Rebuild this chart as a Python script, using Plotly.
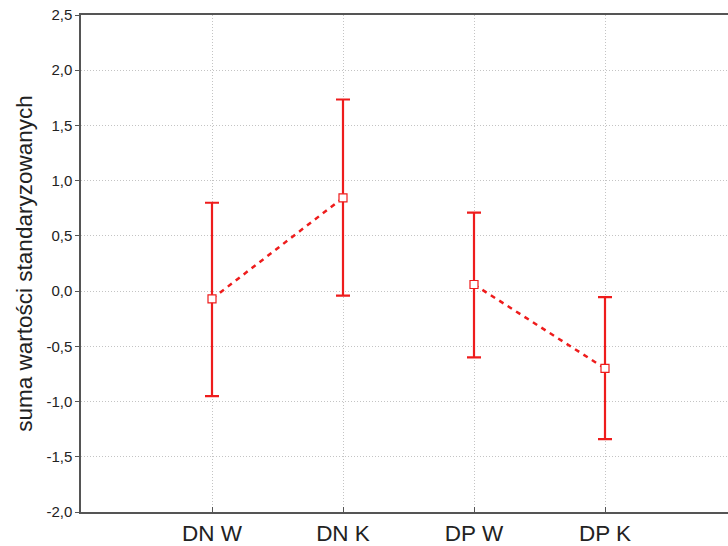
import plotly.graph_objects as go

categories = ["DN W", "DN K", "DP W", "DP K"]
x_pos = [1, 2, 3, 4]
means = [-0.07, 0.845, 0.06, -0.70]
upper = [0.80, 1.735, 0.71, -0.055]
lower = [-0.95, -0.04, -0.60, -1.34]

y_ticks = [-2.0, -1.5, -1.0, -0.5, 0.0, 0.5, 1.0, 1.5, 2.0, 2.5]
y_tick_text = [f"{v:.1f}".replace(".", ",") for v in y_ticks]

red = "#ee1c1c"
fig = go.Figure()

groups = [[0, 1], [2, 3]]
for g in groups:
    fig.add_trace(go.Scatter(
        x=[x_pos[i] for i in g],
        y=[means[i] for i in g],
        mode="lines",
        line=dict(color=red, width=2.5, dash="5px,5px"),
        showlegend=False, hoverinfo="skip",
    ))

fig.add_trace(go.Scatter(
    x=x_pos, y=means, mode="markers",
    marker=dict(symbol="square", size=8, color="white", line=dict(color=red, width=1.2)),
    error_y=dict(type="data", symmetric=False,
                 array=[u - m for u, m in zip(upper, means)],
                 arrayminus=[m - l for m, l in zip(means, lower)],
                 color=red, thickness=2.2, width=7),
    showlegend=False,
))

fig.update_layout(
    width=736, height=546,
    margin=dict(l=81, r=0, t=15, b=29),
    paper_bgcolor="white", plot_bgcolor="white",
    font=dict(family="Liberation Sans, Arial, sans-serif", color="#222"),
)
fig.update_xaxes(
    range=[0.0, 5.0],
    tickvals=x_pos, ticktext=categories,
    tickfont=dict(size=22.5, color="#222"),
    showgrid=True, gridcolor="#c4c4c4", griddash="1px,2px", gridwidth=1,
    showline=True, linecolor="#555", linewidth=1.5, mirror=True,
    ticks="inside", ticklen=5, tickcolor="#555",
    zeroline=False,
)
fig.update_yaxes(
    range=[-2.0, 2.5],
    tickvals=y_ticks, ticktext=y_tick_text,
    tickfont=dict(size=15, color="#222"),
    showgrid=True, gridcolor="#c4c4c4", griddash="1px,2px", gridwidth=1,
    showline=True, linecolor="#555", linewidth=1.5, mirror=False,
    ticks="outside", ticklen=4, tickcolor="#555",
    zeroline=False,
    title=dict(text="suma wartości standaryzowanych", font=dict(size=22.5, color="#222"), standoff=8),
)

fig.write_html("out.html", config={"displayModeBar": False},
               post_script="document.body.style.margin='0px';document.body.style.overflow='hidden';")
